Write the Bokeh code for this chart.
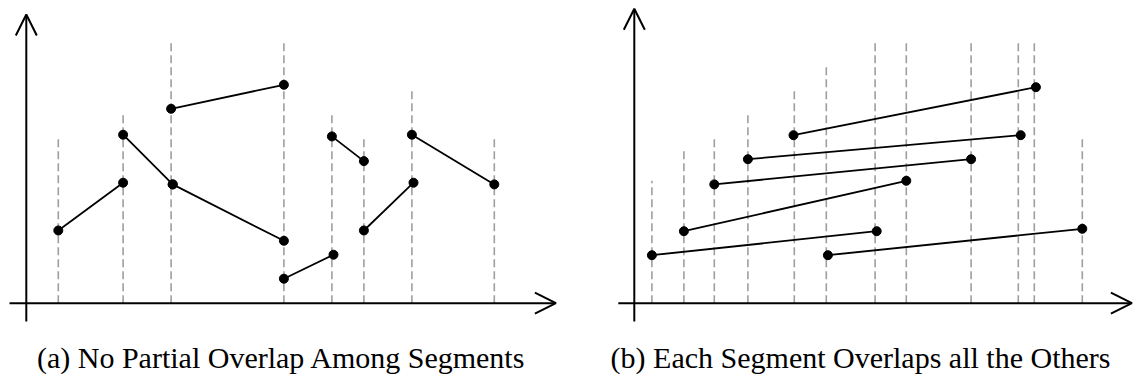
from bokeh.plotting import figure
from bokeh.models import Range1d, Arrow, OpenHead, Label, ColumnDataSource
from bokeh.layouts import row
from bokeh.embed import file_html
from bokeh.resources import INLINE

# ---------------- data: panel (a) ----------------
a_x0 = [2.0, 6.05, 9.15, 9.05, 16.1, 19.1, 21.1, 24.1]
a_y0 = [3.03, 7.02, 4.95, 8.1, 1.02, 6.95, 3.03, 7.02]
a_x1 = [6.05, 9.15, 16.1, 16.1, 19.2, 21.1, 24.2, 29.25]
a_y1 = [5.02, 4.95, 2.6, 9.1, 2.02, 5.92, 5.02, 4.95]
a_guide_x = [2.0, 6.05, 9.05, 16.1, 19.1, 21.1, 24.1, 29.25]
a_guide_top = [7, 8, 11, 11, 8, 7, 9, 7]
a_xaxis = [-1.05, 33.1]
a_yaxis = [-0.76, 12.03]
a_caption = "(a) No Partial Overlap Among Segments"

# ---------------- data: panel (b) ----------------
b_x0 = [1.1, 3.1, 5.0, 7.1, 9.95, 12.1]
b_y0 = [2.0, 3.0, 4.95, 6.0, 7.0, 2.0]
b_x1 = [15.15, 17.0, 21.05, 24.15, 25.1, 28.0]
b_y1 = [3.0, 5.1, 6.0, 7.0, 9.0, 3.1]
b_guide_x = [1.1, 3.1, 5.0, 7.1, 10.0, 12.0, 15.05, 17.0, 21.05, 24.0, 25.0, 28.0]
b_guide_top = [5.1, 6.35, 7.0, 8.0, 9.0, 10.0, 11.0, 11.0, 11.0, 11.0, 11.0, 7.0]
b_xaxis = [-1.0, 31.1]
b_yaxis = [-0.76, 12.27]
b_caption = "(b) Each Segment Overlaps all the Others"

H = 380
XU = 16.0   # px per x unit
YU = 24.0   # px per y unit
ORIGIN_FROM_BOTTOM = H - 302.7


def make_panel(width, origin_px, x0, y0, x1, y1, gx, gtop, xaxis, yaxis, caption, cap_x):
    xr = Range1d(-origin_px / XU, (width - origin_px) / XU)
    yr = Range1d(-ORIGIN_FROM_BOTTOM / YU, (H - ORIGIN_FROM_BOTTOM) / YU)
    p = figure(width=width, height=H, x_range=xr, y_range=yr,
               x_axis_type=None, y_axis_type=None, toolbar_location=None,
               output_backend="svg", min_border=0, outline_line_color=None,
               background_fill_color="white", border_fill_color="white")
    p.grid.visible = False

    gsrc = ColumnDataSource(dict(x=gx, y0=[0] * len(gx), y1=gtop))
    p.segment(x0="x", y0="y0", x1="x", y1="y1", source=gsrc,
              line_color="#9e9e9e", line_width=1.6, line_dash="8 4")

    # axes with open arrow heads
    p.add_layout(Arrow(end=OpenHead(size=21, line_width=2, line_color="black"),
                       x_start=xaxis[0], y_start=0, x_end=xaxis[1], y_end=0,
                       line_width=2, line_color="black"))
    p.add_layout(Arrow(end=OpenHead(size=21, line_width=2, line_color="black"),
                       x_start=0, y_start=yaxis[0], x_end=0, y_end=yaxis[1],
                       line_width=2, line_color="black"))

    ssrc = ColumnDataSource(dict(x0=x0, y0=y0, x1=x1, y1=y1))
    p.segment(x0="x0", y0="y0", x1="x1", y1="y1", source=ssrc,
              line_color="black", line_width=1.8)
    p.scatter(x=x0 + x1, y=y0 + y1, size=9, color="black")

    p.add_layout(Label(x=cap_x, y=-2.26, text=caption, text_align="center",
                       text_baseline="middle", text_font="Liberation Serif",
                       text_font_size="30px", text_color="black"))
    return p


pa = make_panel(578, 25.8, a_x0, a_y0, a_x1, a_y1, a_guide_x, a_guide_top,
                a_xaxis, a_yaxis, a_caption, 15.95)
pb = make_panel(557, 55.8, b_x0, b_y0, b_x1, b_y1, b_guide_x, b_guide_top,
                b_xaxis, b_yaxis, b_caption, 14.14)

layout = row(pa, pb)
open("out.html", "w").write(file_html(layout, INLINE))
